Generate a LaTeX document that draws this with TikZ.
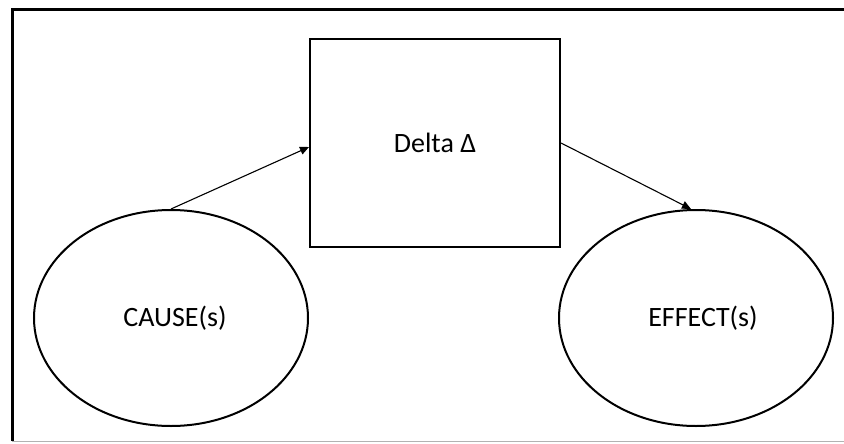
\documentclass[tikz,border=0pt]{standalone}
\usepackage{fontspec}
\setmainfont{Carlito}
\usepackage{tikz}
\usetikzlibrary{shapes.geometric, arrows.meta, positioning, calc}

\begin{document}
\begin{tikzpicture}[
        x=1pt, y=-1pt,
        box/.style={rectangle, draw=black, line width=2pt, minimum width=250pt, minimum height=208pt, align=center, fill=white, font=\fontsize{28}{33}\selectfont},
        oval/.style={ellipse, draw=black, line width=2pt, minimum width=274pt, minimum height=216pt, inner sep=0pt, align=center, font=\fontsize{28}{33}\selectfont},
        arrow/.style={-{Triangle[length=9pt, width=8pt]}, line width=1.1pt}
    ]

    \useasboundingbox (0,0) rectangle (844,444);

    % Frame
    \draw[line width=3pt] (12,441) -- (12,10) -- (844,10);
    \draw[gray!60, line width=1pt] (12,441) -- (844,441);

    % Nodes
    \node[box] (delta) at (435,143) {Delta Δ};

    \node[oval] (cause) at (171,318) {\hspace*{8pt}CAUSE(s)};

    \node[oval] (effect) at (696,318) {\hspace*{14pt}EFFECT(s)};

    % Arrows
    \draw[arrow] (cause.north) -- ($(delta.west)+(0,4)$);
    \draw[arrow] (delta.east) -- ($(effect.north)+(-5,0)$);

\end{tikzpicture}
\end{document}
